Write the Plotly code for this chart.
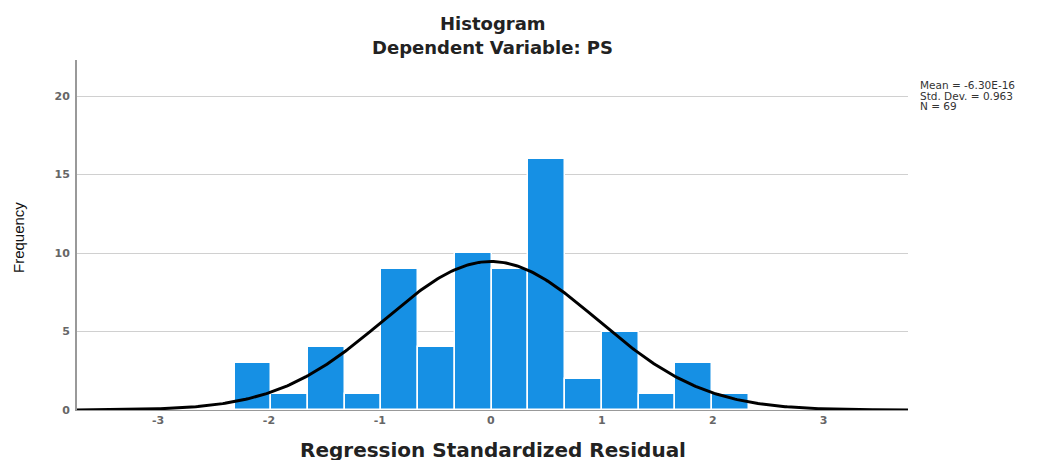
import numpy as np
import plotly.graph_objects as go

# ---- data ----
counts = [3, 1, 4, 1, 9, 4, 10, 9, 16, 2, 5, 1, 3, 1]
bin_start = -2.31
bin_width = 0.331
mean_val = -6.30e-16
std_dev = 0.963
n_obs = 69
x_ticks = [-3, -2, -1, 0, 1, 2, 3]
y_ticks = [0, 5, 10, 15, 20]
stats_text = ["Mean = -6.30E-16", "Std. Dev. = 0.963", "N = 69"]
title_text = "Histogram"
subtitle_text = "Dependent Variable: PS"
x_title = "Regression Standardized Residual"
y_title = "Frequency"

x_range = [-3.73, 3.76]
y_range = [0, 22.3]

centers = [bin_start + bin_width * (i + 0.5) for i in range(len(counts))]

xs = np.linspace(x_range[0], x_range[1], 400)
ys = n_obs * bin_width * np.exp(-0.5 * ((xs - mean_val) / std_dev) ** 2) / (std_dev * np.sqrt(2 * np.pi))

WIDE = "DejaVu Sans, Verdana, sans-serif"
PLAIN = "Liberation Sans, Arial, sans-serif"

fig = go.Figure()
fig.add_trace(go.Bar(
    x=centers, y=counts, width=bin_width,
    marker=dict(color="#1690E4", line=dict(color="white", width=1.5)),
    hoverinfo="x+y", showlegend=False,
))
fig.add_trace(go.Scatter(
    x=xs, y=ys, mode="lines", line=dict(color="black", width=3),
    showlegend=False, hoverinfo="skip",
))

fig.update_layout(
    width=1045, height=460,
    margin=dict(l=69, r=145, t=52, b=58),
    plot_bgcolor="white", paper_bgcolor="white",
    font=dict(family=WIDE, color="#222"),
    bargap=0,
)
fig.update_xaxes(
    range=x_range, tickvals=x_ticks, ticktext=[str(v) for v in x_ticks],
    showgrid=False, zeroline=False, showline=True, linecolor="#999", linewidth=1,
    ticks="", tickfont=dict(size=11, color="#666", family=WIDE, weight="bold"),
)
fig.update_yaxes(
    range=y_range, tickvals=y_ticks, showgrid=True, gridcolor="#d0d0d0", gridwidth=1,
    zeroline=False, showline=True, linecolor="#999", linewidth=2,
    ticks="", ticklabelstandoff=3,
    tickfont=dict(size=11, color="#666", family=WIDE, weight="bold"),
)

fig.add_annotation(text="<b>%s</b>" % title_text, xref="paper", yref="paper", x=0.5, y=1.0,
                   yshift=37, showarrow=False, font=dict(size=18, color="#222", family=WIDE),
                   xanchor="center", yanchor="middle")
fig.add_annotation(text="<b>%s</b>" % subtitle_text, xref="paper", yref="paper", x=0.5, y=1.0,
                   yshift=13, showarrow=False, font=dict(size=18, color="#222", family=WIDE),
                   xanchor="center", yanchor="middle")
fig.add_annotation(text="<b>%s</b>" % x_title, xref="paper", yref="paper", x=0.5, y=0.0,
                   yshift=-40, showarrow=False, font=dict(size=20, color="#222", family=WIDE),
                   xanchor="center", yanchor="middle")
fig.add_annotation(text=y_title, xref="paper", yref="paper", x=0.0, y=0.5,
                   xshift=-59, yshift=-3, textangle=-90, showarrow=False,
                   font=dict(size=15, color="#111", family=PLAIN),
                   xanchor="center", yanchor="middle")
for i, line in enumerate(stats_text):
    fig.add_annotation(text=line, xref="paper", yref="paper", x=1.0, y=1.0,
                       xshift=10, yshift=-25 - 10.5 * i, showarrow=False, align="left",
                       xanchor="left", yanchor="middle",
                       font=dict(size=10.5, color="#333", family=WIDE))

fig.write_html("out.html")
